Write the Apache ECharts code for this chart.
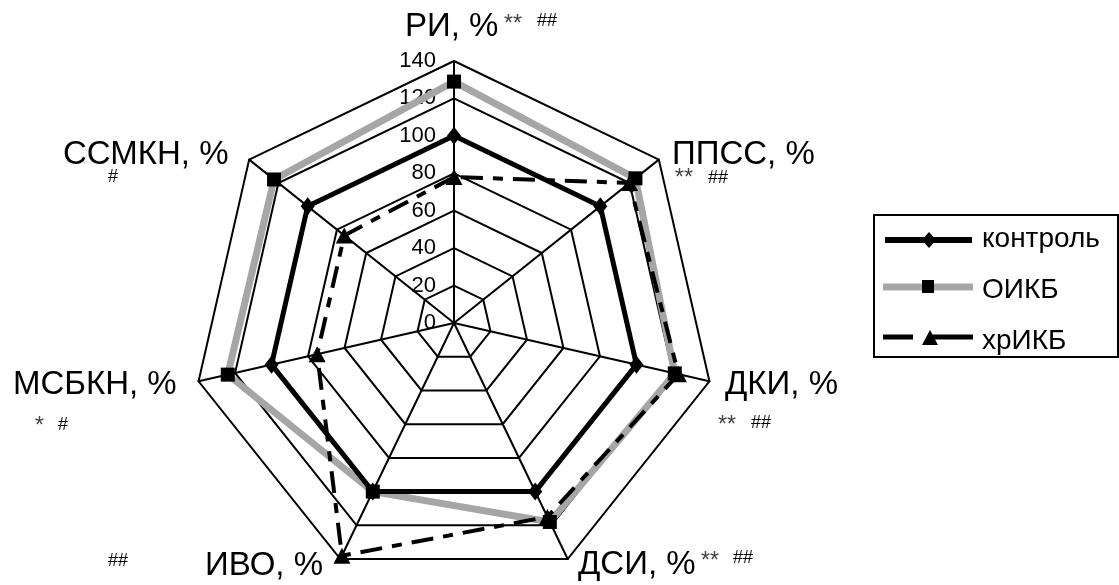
<!DOCTYPE html>
<html>
<head>
<meta charset="utf-8">
<script src="https://cdn.jsdelivr.net/npm/echarts@6/dist/echarts.min.js"></script>
<style>
html, body { margin: 0; padding: 0; background: #fff; }
#chart { width: 1119px; height: 585px; }
</style>
</head>
<body>
<div id="chart"></div>
<script>
// indicators go counter-clockwise in echarts, so list them that way
var axes = ["РИ, %", "ССМКН, %", "МСБКН, %", "ИВО, %", "ДСИ, %", "ДКИ, %", "ППСС, %"];
var axisMax = 140;
var control = [100, 100, 100, 100, 100, 100, 100];
var oikb = [129, 123, 124, 100, 118, 121, 124];
var hrikb = [78, 75, 75, 138, 115, 123, 120];
var seriesNames = ["контроль", "ОИКБ", "хрИКБ"];

var FONT = '"Liberation Sans", Arial, sans-serif';

function txt(s, x, y, size, color) {
  return {
    type: "text", x: x, y: y, z: 50,
    style: {
      text: s, fill: color || "#000", font: size + "px " + FONT,
      textAlign: "left", textVerticalAlign: "middle",
      align: "left", verticalAlign: "middle"
    }
  };
}

// axis names + significance marks
var labels = [
  txt("РИ, %", 405, 27, 33),
  txt("ССМКН, %", 63, 155, 33),
  txt("ППСС, %", 672, 155, 33),
  txt("ДКИ, %", 725, 385, 33),
  txt("МСБКН, %", 13, 385, 33),
  txt("ИВО, %", 205, 566, 33),
  txt("ДСИ, %", 578, 565, 33),
  txt("**", 504, 25, 23, "#444"), txt("##", 537, 21, 18),
  txt("#", 108, 177, 18),
  txt("**", 675, 179, 23, "#444"), txt("##", 708, 178, 18),
  txt("**", 718, 426, 23, "#444"), txt("##", 751, 423, 18),
  txt("*", 35, 427, 23, "#444"), txt("#", 58, 425, 18),
  txt("##", 108, 561, 18),
  txt("**", 701, 562, 23, "#444"), txt("##", 733, 558, 18)
];

// legend drawn by hand so the line samples look like the original
var legend = [
  { type: "rect", shape: { x: 874, y: 215, width: 244, height: 142 },
    style: { fill: "#fff", stroke: "#000", lineWidth: 2 }, z: 40 },
  { type: "line", shape: { x1: 885, y1: 240, x2: 972, y2: 240 },
    style: { stroke: "#000", lineWidth: 6 }, z: 41 },
  { type: "polygon", shape: { points: [[929, 232], [936, 240], [929, 248], [922, 240]] },
    style: { fill: "#000" }, z: 42 },
  { type: "line", shape: { x1: 883, y1: 287, x2: 973, y2: 287 },
    style: { stroke: "#a6a6a6", lineWidth: 7 }, z: 41 },
  { type: "rect", shape: { x: 922, y: 280, width: 12, height: 13 },
    style: { fill: "#000" }, z: 42 },
  { type: "line", shape: { x1: 883, y1: 337, x2: 973, y2: 337 },
    style: { stroke: "#000", lineWidth: 5, lineDash: [30, 15, 45] }, z: 41 },
  { type: "polygon", shape: { points: [[930, 330], [938, 345], [922, 345]] },
    style: { fill: "#000" }, z: 42 },
  txt(seriesNames[0], 982, 239, 28),
  txt(seriesNames[1], 982, 290, 28),
  txt(seriesNames[2], 982, 341, 28)
];

var chart = echarts.init(document.getElementById("chart"), null, { renderer: "canvas" });

chart.setOption({
  animation: false,
  backgroundColor: "#fff",
  radar: {
    center: [454, 323],
    radius: 262,
    startAngle: 90,
    shape: "polygon",
    splitNumber: 7,
    axisName: { show: false },
    indicator: axes.map(function (a, i) {
      var ind = { name: a, min: 0, max: axisMax };
      if (i === 0) {
        ind.axisLabel = {
          show: true, color: "#000", fontSize: 22, fontFamily: FONT, margin: 18,
          showMinLabel: true, showMaxLabel: true
        };
      }
      return ind;
    }),
    axisLabel: { show: false },
    axisTick: { show: false },
    axisLine: { show: true, lineStyle: { color: "#000", width: 2 } },
    splitLine: { show: true, lineStyle: { color: "#000", width: 2 } },
    splitArea: { show: false }
  },
  series: [{
    type: "radar",
    data: [
      {
        name: seriesNames[1], value: oikb,
        symbol: "rect", symbolSize: 14,
        itemStyle: { color: "#000" },
        lineStyle: { color: "#a6a6a6", width: 7 }
      },
      {
        name: seriesNames[0], value: control,
        symbol: "diamond", symbolSize: [14, 18],
        itemStyle: { color: "#000" },
        lineStyle: { color: "#000", width: 5 }
      },
      {
        name: seriesNames[2], value: hrikb,
        symbol: "triangle", symbolSize: [17, 16],
        itemStyle: { color: "#000" },
        lineStyle: { color: "#000", width: 4, type: [22, 10, 10, 10] }
      }
    ]
  }],
  graphic: labels.concat(legend)
});
</script>
</body>
</html>
